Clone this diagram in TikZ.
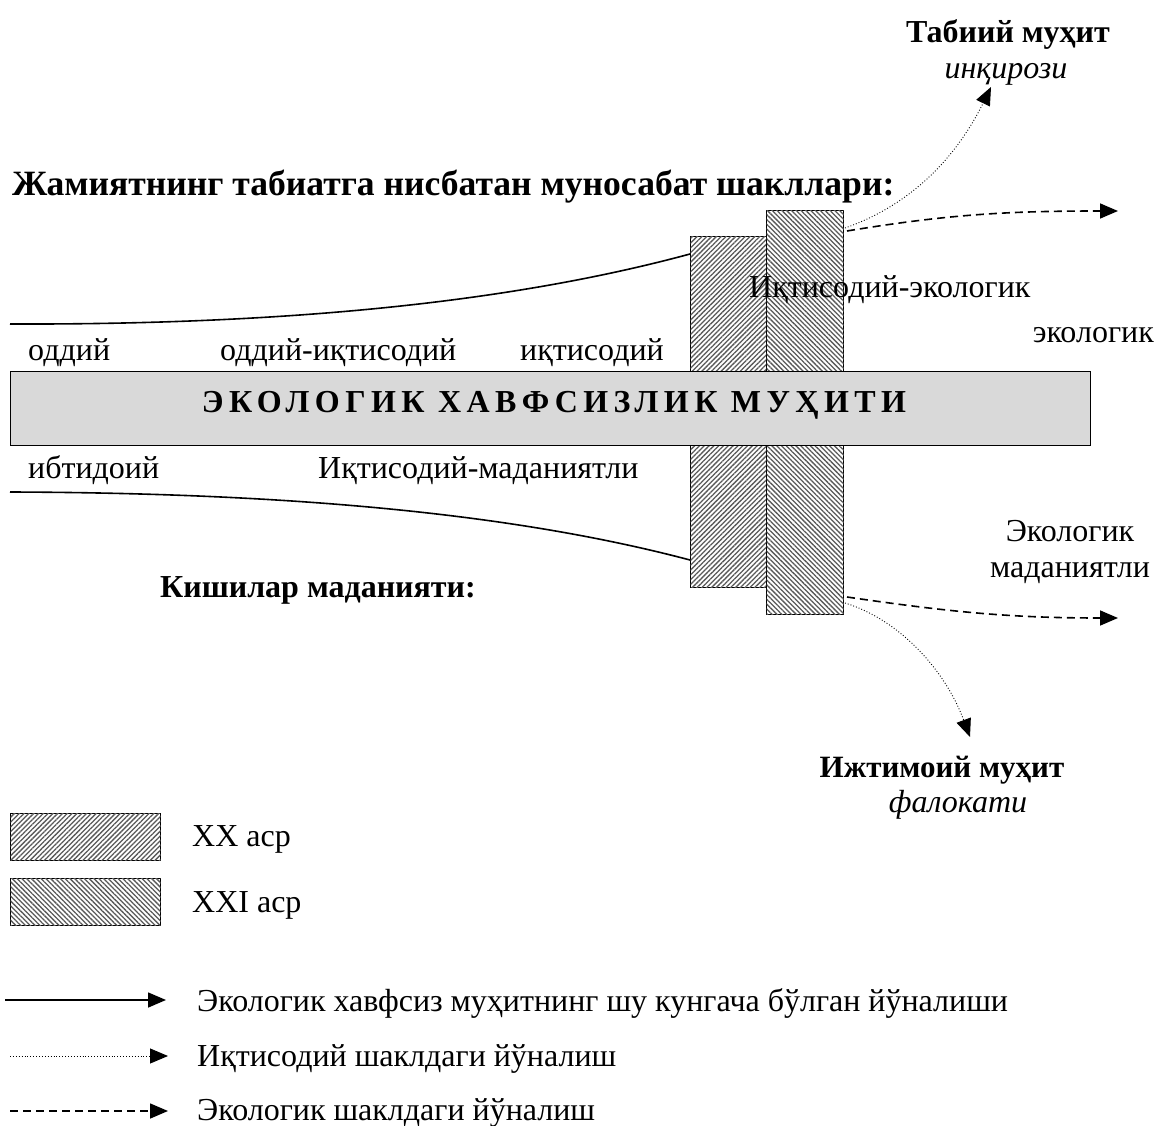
\documentclass[tikz,border=0pt]{standalone}
\usepackage{fontspec}
\setmainfont{Liberation Serif}
\newfontfamily\spacedbf[LetterSpace=17]{Liberation Serif Bold}
\usetikzlibrary{arrows.meta,patterns.meta}
\tikzset{
  txt/.style={inner sep=0pt,font=\fontsize{32}{38}\selectfont},
  btxt/.style={txt,font=\fontsize{32}{38}\selectfont\bfseries},
  itxt/.style={txt,font=\fontsize{32}{38}\selectfont\itshape},
  hatchA/.style={draw,line width=1.4pt,inner sep=0pt,fill=white,
    postaction={pattern={Lines[angle=45,distance=3.4pt,line width=1.3pt]},pattern color=black!65}},
  hatchB/.style={draw,line width=1.4pt,inner sep=0pt,fill=white,
    postaction={pattern={Lines[angle=-45,distance=3.4pt,line width=1.3pt]},pattern color=black!65}},
  solidln/.style={line width=1.6pt},
  dotln/.style={line width=0.9pt,dotted,-{Triangle[length=18pt,width=15pt]}},
  dashln/.style={line width=1.6pt,dash pattern=on 8pt off 5pt,-{Triangle[length=18pt,width=15pt]}},
}
\begin{document}
\begin{tikzpicture}[x=1pt,y=-1pt]
\useasboundingbox (0,0) rectangle (1157,1126);
% hatched bars
\node[hatchA,minimum width=76pt,minimum height=351pt,anchor=north west] (xx) at (690,236) {};
\node[hatchB,minimum width=77pt,minimum height=404pt,anchor=north west] (xxi) at (766,210) {};
% central bar
\node[draw,line width=1.4pt,fill=black!15,minimum width=1080pt,minimum height=74pt,inner sep=0pt,anchor=north west] (env) at (10,371) {};
\node[inner sep=0pt,anchor=base,font=\fontsize{32}{38}\spacedbf] (title) at (554,412) {ЭКОЛОГИК ХАВФСИЗЛИК МУҲИТИ};
% curves
\coordinate (tl) at (10,324);
\coordinate (bl) at (10,492);
\coordinate (te) at (690,254);
\coordinate (be) at (690,560);
\draw[solidln] (tl) .. controls (300,325) and (520,300) .. (te);
\draw[solidln] (bl) .. controls (300,493) and (520,515) .. (be);
% arrows out
\coordinate (s1) at (845,228);
\coordinate (s2) at (847,231);
\coordinate (s3) at (847,597);
\coordinate (s4) at (845,603);
\coordinate (t1) at (991,87);
\coordinate (t2) at (1118,211);
\coordinate (t3) at (1118,618);
\coordinate (t4) at (970,737);
\draw[dotln] (s1) .. controls (925,200) and (965,140) .. (t1);
\draw[dashln] (s2) .. controls (950,214) and (1010,211) .. (t2);
\draw[dashln] (s3) .. controls (950,612) and (1010,618) .. (t3);
\draw[dotln] (s4) .. controls (900,620) and (945,670) .. (t4);
% texts
\node[btxt,anchor=base] (tab) at (1008,43) {Табиий муҳит};
\node[itxt,anchor=base] (inq) at (1006,79) {инқирози};
\node[txt,anchor=base west,font=\fontsize{35.6}{40}\selectfont\bfseries] (jam) at (12,196) {Жамиятнинг табиатга нисбатан муносабат шакллари:};
\node[txt,anchor=base west] (ie) at (749,298) {Иқтисодий-экологик};
\node[txt,anchor=base east] (eko) at (1154,342) {экологик};
\node[txt,anchor=base west] (od) at (28,360) {оддий};
\node[txt,anchor=base west] (odi) at (220,360) {оддий-иқтисодий};
\node[txt,anchor=base west] (iq) at (520,360) {иқтисодий};
\node[txt,anchor=base west] (ib) at (28,478) {ибтидоий};
\node[txt,anchor=base west] (im) at (318,478) {Иқтисодий-маданиятли};
\node[txt,anchor=base] (em1) at (1070,541) {Экологик};
\node[txt,anchor=base] (em2) at (1070,577) {маданиятли};
\node[btxt,anchor=base west] (kish) at (160,597) {Кишилар маданияти:};
\node[txt,anchor=base,font=\fontsize{31}{37}\selectfont\bfseries] (ij) at (942,777) {Ижтимоий муҳит};
\node[itxt,anchor=base] (fal) at (958,812) {фалокати};
% legend
\node[hatchA,minimum width=150pt,minimum height=47pt,anchor=north west] (lg1) at (10,813) {};
\node[hatchB,minimum width=150pt,minimum height=47pt,anchor=north west] (lg2) at (10,878) {};
\node[txt,anchor=base west] (l1) at (192,846) {XX аср};
\node[txt,anchor=base west] (l2) at (192,912) {XXI аср};
\coordinate (a1) at (5,1000);   \coordinate (b1) at (166,1000);
\coordinate (a2) at (10,1056);  \coordinate (b2) at (168,1056);
\coordinate (a3) at (10,1111);  \coordinate (b3) at (168,1111);
\draw[solidln,-{Triangle[length=18pt,width=15pt]}] (a1) -- (b1);
\draw[dotln] (a2) -- (b2);
\draw[dashln] (a3) -- (b3);
\node[txt,anchor=base west] (d1) at (197,1011) {Экологик хавфсиз муҳитнинг шу кунгача бўлган йўналиши};
\node[txt,anchor=base west] (d2) at (197,1066) {Иқтисодий шаклдаги йўналиш};
\node[txt,anchor=base west] (d3) at (197,1120) {Экологик шаклдаги йўналиш};
\end{tikzpicture}
\end{document}
